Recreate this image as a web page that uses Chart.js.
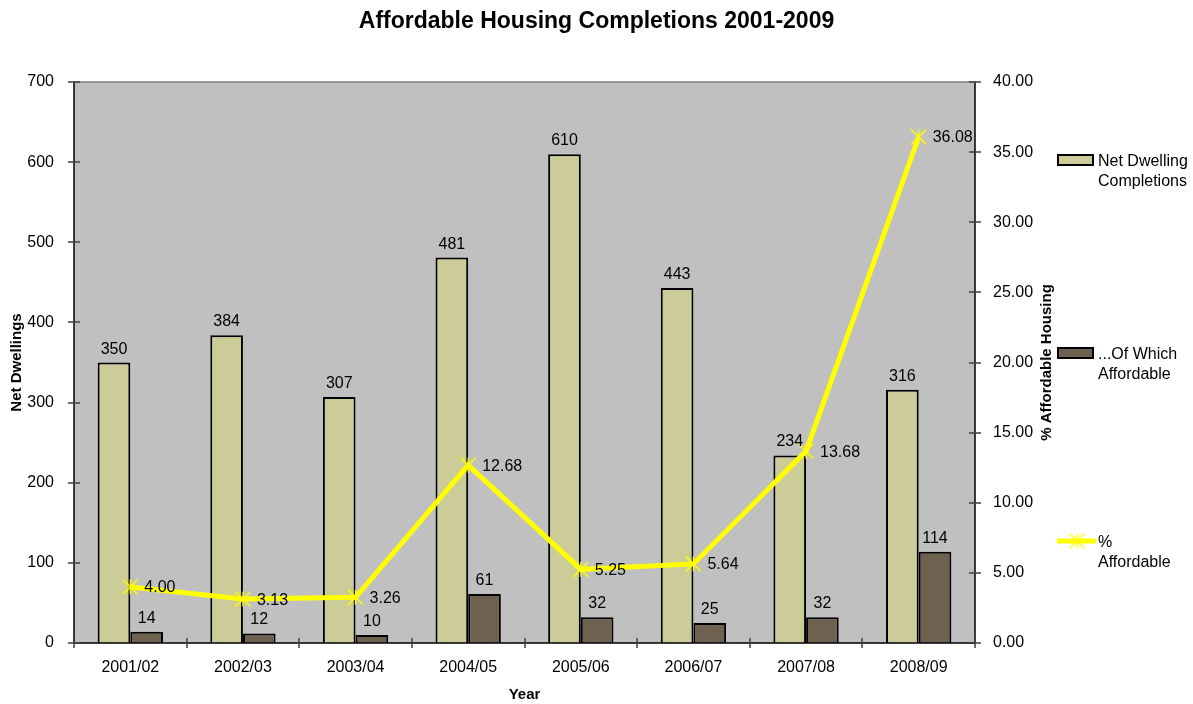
<!DOCTYPE html>
<html>
<head>
<meta charset="utf-8">
<title>Affordable Housing Completions 2001-2009</title>
<script src="https://cdn.jsdelivr.net/npm/chart.js@4/dist/chart.umd.min.js"></script>
<style>
  html, body { margin: 0; padding: 0; background: #fff; }
  #wrap { width: 1193px; height: 704px; }
</style>
</head>
<body>
<div id="wrap"><canvas id="myChart" width="1193" height="704"></canvas></div>
<script>
const years = ["2001/02", "2002/03", "2003/04", "2004/05", "2005/06", "2006/07", "2007/08", "2008/09"];
const netCompletions = [350, 384, 307, 481, 610, 443, 234, 316];
const affordable = [14, 12, 10, 61, 32, 25, 32, 114];
const pctAffordable = [4.00, 3.13, 3.26, 12.68, 5.25, 5.64, 13.68, 36.08];

const FONT = "'Liberation Sans', Arial, sans-serif";
const netColor = "#CCCC99";
const affColor = "#6F6150";
const lineColor = "#FFFF00";

// excel style "*" marker: an X with a vertical stroke through it
function starMarker(size, color) {
    const c = document.createElement("canvas");
    c.width = size;
    c.height = size;
    const g = c.getContext("2d");
    const m = size / 2, r = size / 2 - 1;
    g.strokeStyle = color;
    g.lineWidth = 1.5;
    g.beginPath();
    g.moveTo(m - r, m - r); g.lineTo(m + r, m + r);
    g.moveTo(m + r, m - r); g.lineTo(m - r, m + r);
    g.moveTo(m, m - r); g.lineTo(m, m + r);
    g.stroke();
    return c;
}
const marker = starMarker(17, lineColor);

// grey plot area behind the bars
const plotBackground = {
    id: "plotBackground",
    beforeDatasetsDraw(chart) {
        const {ctx, chartArea: a} = chart;
        ctx.save();
        ctx.fillStyle = "#C0C0C0";
        ctx.fillRect(a.left, a.top, a.right - a.left, a.bottom - a.top);
        ctx.restore();
    }
};

// axis lines, crossing tick marks, value labels, title and legend
const decorations = {
    id: "decorations",
    afterDatasetsDraw(chart) {
        const {ctx, chartArea: a, scales} = chart;
        ctx.save();

        // frame
        ctx.lineWidth = 1.5;
        ctx.strokeStyle = "#808080";
        ctx.beginPath();
        ctx.moveTo(a.left, a.top);
        ctx.lineTo(a.right, a.top);
        ctx.stroke();

        ctx.lineWidth = 1.5;
        ctx.strokeStyle = "#000";
        ctx.beginPath();
        ctx.moveTo(a.left, a.top);
        ctx.lineTo(a.left, a.bottom);
        ctx.lineTo(a.right, a.bottom);
        ctx.moveTo(a.right, a.top);
        ctx.lineTo(a.right, a.bottom);
        ctx.stroke();

        ctx.lineWidth = 1.5;
        ctx.strokeStyle = "#404040";
        ctx.beginPath();
        scales.y.ticks.forEach(t => {
            const y = Math.round(scales.y.getPixelForValue(t.value));
            ctx.moveTo(a.left - 6, y);
            ctx.lineTo(a.left + 6, y);
        });
        scales.y1.ticks.forEach(t => {
            const y = Math.round(scales.y1.getPixelForValue(t.value));
            ctx.moveTo(a.right - 6, y);
            ctx.lineTo(a.right + 6, y);
        });
        const xs = scales.x;
        for (let i = 0; i <= years.length; i++) {
            let x;
            if (i === 0) x = a.left;
            else if (i === years.length) x = a.right;
            else x = (xs.getPixelForTick(i - 1) + xs.getPixelForTick(i)) / 2;
            x = Math.round(x);
            ctx.moveTo(x, a.bottom - 5);
            ctx.lineTo(x, a.bottom + 5);
        }
        ctx.stroke();

        // value labels
        ctx.fillStyle = "#000";
        ctx.font = "16px " + FONT;
        chart.data.datasets.forEach((ds, di) => {
            const meta = chart.getDatasetMeta(di);
            meta.data.forEach((el, i) => {
                if (ds.type === "line") {
                    ctx.textAlign = "left";
                    ctx.textBaseline = "middle";
                    ctx.fillText(ds.data[i].toFixed(2), el.x + 14, el.y + 1);
                } else {
                    ctx.textAlign = "center";
                    ctx.textBaseline = "alphabetic";
                    ctx.fillText(String(ds.data[i]), el.x, el.y - 9);
                }
            });
        });

        // chart title, centred on the whole canvas
        ctx.font = "bold 23px " + FONT;
        ctx.textAlign = "center";
        ctx.textBaseline = "alphabetic";
        ctx.fillText("Affordable Housing Completions 2001-2009", chart.width / 2, 28);

        // right axis title, reading upwards
        ctx.save();
        ctx.font = "bold 15px " + FONT;
        ctx.translate(scales.y1.right - 16, (a.top + a.bottom) / 2);
        ctx.rotate(-Math.PI / 2);
        ctx.textBaseline = "middle";
        ctx.fillText("% Affordable Housing", 0, 0);
        ctx.restore();

        // legend, spread down the right hand side
        const lx = 1058, tx = 1098;
        const entries = [
            {y: 160, lines: ["Net Dwelling", "Completions"], fill: netColor},
            {y: 353, lines: ["...Of Which", "Affordable"], fill: affColor},
            {y: 541, lines: ["%", "Affordable"], line: true}
        ];
        entries.forEach(e => {
            if (e.line) {
                ctx.strokeStyle = lineColor;
                ctx.lineWidth = 5;
                ctx.beginPath();
                ctx.moveTo(lx - 1, e.y);
                ctx.lineTo(lx + 38, e.y);
                ctx.stroke();
                ctx.drawImage(marker, lx + 19 - 8.5, e.y - 8.5);
            } else {
                ctx.fillStyle = e.fill;
                ctx.fillRect(lx, e.y - 5, 35, 10);
                ctx.strokeStyle = "#000";
                ctx.lineWidth = 2;
                ctx.strokeRect(lx, e.y - 5, 35, 10);
            }
            ctx.fillStyle = "#000";
            ctx.font = "16px " + FONT;
            ctx.textAlign = "left";
            ctx.textBaseline = "middle";
            e.lines.forEach((s, k) => ctx.fillText(s, tx, e.y + 2 + k * 20));
        });

        ctx.restore();
    }
};

new Chart("myChart", {
    data: {
        labels: years,
        datasets: [{
            type: "line",
            label: "% Affordable",
            data: pctAffordable,
            yAxisID: "y1",
            borderColor: lineColor,
            borderWidth: 5,
            tension: 0,
            pointStyle: marker,
            pointRadius: 8,
            pointHoverRadius: 8,
            order: 0
        }, {
            type: "bar",
            label: "Net Dwelling Completions",
            data: netCompletions,
            yAxisID: "y",
            backgroundColor: netColor,
            borderColor: "#000",
            borderWidth: 2,
            categoryPercentage: 0.58,
            barPercentage: 1,
            order: 1
        }, {
            type: "bar",
            label: "...Of Which Affordable",
            data: affordable,
            yAxisID: "y",
            backgroundColor: affColor,
            borderColor: "#000",
            borderWidth: 2,
            categoryPercentage: 0.58,
            barPercentage: 1,
            order: 1
        }]
    },
    options: {
        responsive: false,
        animation: false,
        layout: { padding: { top: 82, right: 130, bottom: 0, left: 0 } },
        plugins: {
            legend: { display: false },
            title: { display: false },
            tooltip: { enabled: false }
        },
        scales: {
            x: {
                grid: { display: false },
                border: { display: false },
                ticks: { color: "#000", font: { family: FONT, size: 16 }, padding: 7, maxRotation: 0 },
                title: { display: true, text: "Year", color: "#000", font: { family: FONT, size: 15, weight: "bold" }, padding: { top: 0, bottom: 0 } },
                afterFit(s) { s.height = 61; }
            },
            y: {
                position: "left",
                min: 0,
                max: 700,
                ticks: { stepSize: 100, color: "#000", font: { family: FONT, size: 16 }, padding: 12 },
                grid: { display: false },
                border: { display: false },
                title: { display: true, text: "Net Dwellings", color: "#000", font: { family: FONT, size: 15, weight: "bold" }, padding: { top: 8, bottom: 0 } },
                afterFit(s) { s.width = 74; }
            },
            y1: {
                position: "right",
                min: 0,
                max: 40,
                ticks: {
                    stepSize: 5,
                    color: "#000",
                    font: { family: FONT, size: 16 },
                    padding: 10,
                    callback: v => v.toFixed(2)
                },
                grid: { display: false },
                border: { display: false },
                afterFit(s) { s.width = 88; }
            }
        }
    },
    plugins: [plotBackground, decorations]
});
</script>
</body>
</html>
